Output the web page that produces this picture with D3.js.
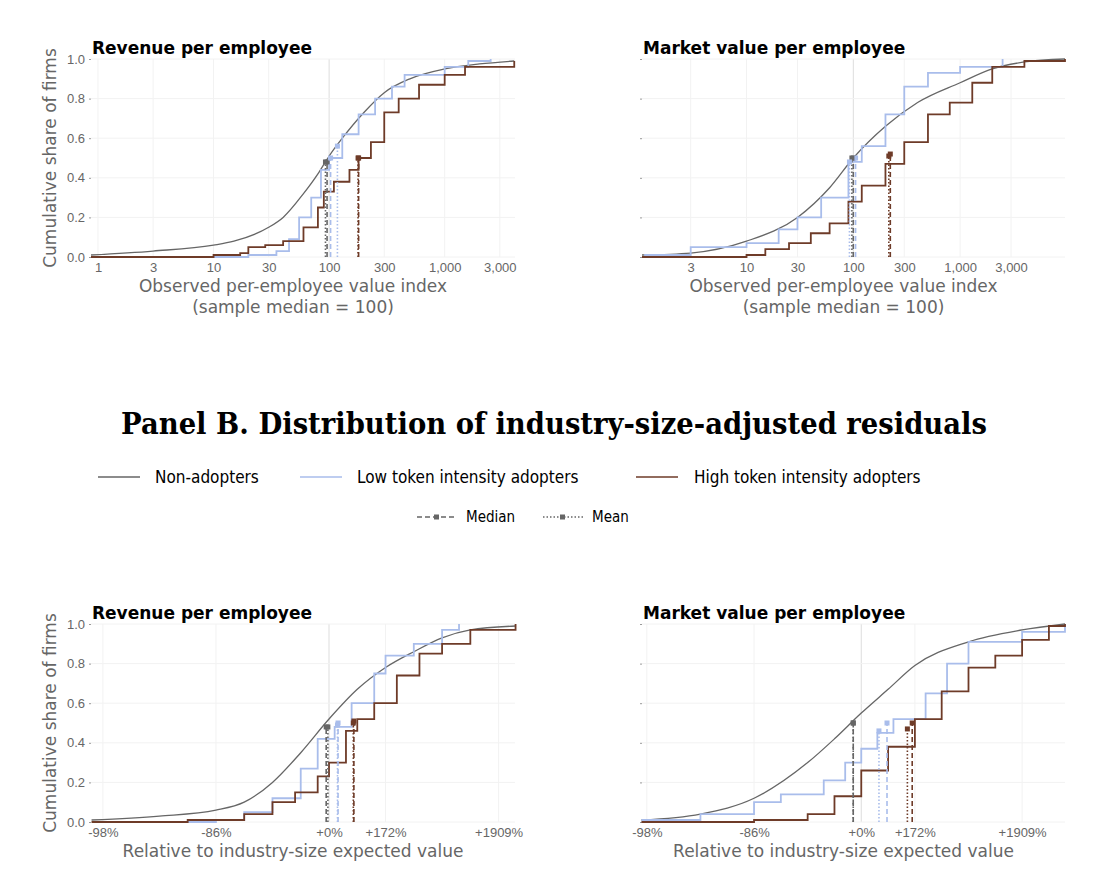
<!DOCTYPE html>
<html><head><meta charset="utf-8">
<script src="https://cdn.jsdelivr.net/npm/d3@7"></script>
<style>
body{margin:0;background:#fff;font-family:"DejaVu Sans",sans-serif}
.tick text{fill:#666;font-size:13px}
.title{font-weight:bold;font-size:17px;fill:#000}
.alab{fill:#666;font-size:17px}
</style></head><body>
<svg id="c" width="1100" height="896"></svg>
<script>
const series = ["Non-adopters", "Low token intensity adopters", "High token intensity adopters"]
const colors = ["#666666", "#a9bdeb", "#6e3b28"]

// Panel A: observed index (sample median = 100), CDF points [x, share]
const revNon = [[0.87,0.01],[3,0.03],[10,0.06],[15,0.08],[30,0.15],[40,0.2],[60,0.32],[80,0.42],[100,0.51],[130,0.6],[200,0.73],[300,0.83],[500,0.9],[1000,0.95],[2000,0.975],[4000,0.99]]
const revLow = [[10,0],[20,0.01],[35,0.03],[45,0.09],[55,0.2],[70,0.3],[85,0.44],[100,0.5],[130,0.62],[180,0.72],[250,0.8],[350,0.86],[450,0.92],[1000,0.96],[1600,0.99],[2500,1.0]]
const revHigh = [[0.87,0],[9,0],[10,0.01],[17,0.02],[20,0.05],[28,0.06],[40,0.08],[60,0.15],[80,0.25],[90,0.33],[110,0.38],[150,0.44],[180,0.5],[230,0.58],[300,0.73],[400,0.8],[600,0.87],[1000,0.92],[1500,0.96],[4000,0.99]]
const mvNon = [[1.05,0.01],[3,0.02],[10,0.08],[30,0.2],[60,0.35],[100,0.5],[200,0.66],[400,0.78],[1000,0.88],[2000,0.95],[4000,0.985],[9600,1.0]]
const mvLow = [[1.1,0.01],[3,0.05],[10,0.07],[15,0.07],[20,0.14],[30,0.2],[50,0.3],[90,0.48],[120,0.56],[200,0.72],[300,0.86],[500,0.93],[1000,0.96],[2500,1.0]]
const mvHigh = [[1.05,0],[10,0.01],[15,0.04],[25,0.07],[40,0.12],[60,0.17],[90,0.28],[120,0.36],[200,0.47],[300,0.58],[500,0.72],[800,0.78],[1300,0.88],[2000,0.96],[4000,0.99],[9600,1.0]]

// Panel B: log residual (ln ratio to expected), CDF points
const resRevNon = [[-4.2,0.01],[-3,0.03],[-2,0.06],[-1.5,0.1],[-1,0.2],[-0.5,0.35],[0,0.52],[0.5,0.67],[1,0.78],[1.5,0.86],[2,0.93],[2.5,0.97],[3.3,0.99]]
const resRevLow = [[-2.5,0],[-2,0.01],[-1.5,0.05],[-1,0.12],[-0.5,0.27],[-0.2,0.42],[0.1,0.48],[0.4,0.6],[0.8,0.75],[1.0,0.84],[1.5,0.9],[2,0.97],[2.3,1.0]]
const resRevHigh = [[-4.2,0],[-2.5,0.01],[-1.5,0.04],[-1,0.1],[-0.6,0.15],[-0.2,0.23],[0,0.3],[0.3,0.46],[0.5,0.52],[0.8,0.6],[1.2,0.74],[1.6,0.85],[2,0.9],[2.5,0.97],[3.3,1.0]]
const resMvNon = [[-4.1,0.01],[-3,0.04],[-2,0.12],[-1,0.3],[-0.5,0.42],[0,0.55],[0.5,0.67],[1,0.79],[2,0.91],[3,0.97],[3.8,1.0]]
const resMvLow = [[-4.1,0.01],[-3,0.04],[-2,0.1],[-1.5,0.14],[-0.7,0.21],[-0.3,0.3],[0,0.37],[0.3,0.45],[0.6,0.52],[1.2,0.65],[1.6,0.8],[2,0.91],[3,0.96],[3.8,1.0]]
const resMvHigh = [[-4.1,0],[-2,0.01],[-1,0.04],[-0.5,0.13],[0,0.26],[0.5,0.38],[1,0.52],[1.5,0.66],[2,0.78],[2.5,0.84],[3,0.92],[3.5,0.99],[3.8,1.0]]

// medians / means per series: [x, share]
const revMed = [[96,0.48],[103,0.5],[180,0.5]], revMean = [[93,0.48],[118,0.56],[178,0.5]]
const mvMed = [[100,0.5],[105,0.5],[222,0.52]], mvMean = [[97,0.5],[92,0.48],[215,0.51]]
const resRevMed = [[-0.05,0.48],[0.16,0.5],[0.44,0.51]], resRevMean = [[-0.02,0.48],[0.15,0.49],[0.43,0.5]]
const resMvMed = [[-0.15,0.5],[0.48,0.5],[0.95,0.5]], resMvMean = [[-0.15,0.5],[0.33,0.46],[0.86,0.47]]

const logTicks = [1,3,10,30,100,300,1000,3000]
const resTicks = [-4,-2,0,1,3]
const yTicks = [0,0.2,0.4,0.6,0.8,1.0]

const svg = d3.select("#c")

function panel(o) {
  const g = svg.append("g")
  const x = (o.log ? d3.scaleLog() : d3.scaleLinear()).domain(o.dom).range([o.x0, o.x1])
  const y = d3.scaleLinear().domain([0,1]).range([o.y1, o.y0])
  const ticks = o.ticks.filter(t => t >= o.dom[0] && t <= o.dom[1])
  // grid
  g.selectAll(".gx").data(ticks).join("line").attr("x1", d=>x(d)).attr("x2", d=>x(d))
    .attr("y1", o.y0).attr("y2", o.y1).attr("stroke", d => d === o.ref ? "#ddd" : "#f2f2f2")
  g.selectAll(".gy").data(yTicks).join("line").attr("x1", o.x0).attr("x2", o.x1)
    .attr("y1", d=>y(d)).attr("y2", d=>y(d)).attr("stroke", "#f2f2f2")
  const xa = g.append("g").attr("transform", `translate(0,${o.y1})`)
    .call(d3.axisBottom(x).tickValues(ticks).tickSize(0).tickPadding(6).tickFormat(o.fmt))
  xa.select(".domain").remove()
  const ya = g.append("g").attr("transform", `translate(${o.x0},0)`)
    .call(d3.axisLeft(y).tickValues(yTicks).tickSize(2).tickPadding(4).tickFormat(o.ylab ? d3.format(".1f") : ""))
  ya.select(".domain").remove()
  ya.selectAll(".tick line").attr("stroke", "#999")
  const line = d3.line().x(d=>x(d[0])).y(d=>y(d[1]))
  o.curves.forEach((c,i) => {
    g.append("path").datum(c).attr("fill","none").attr("stroke", colors[i])
      .attr("stroke-width", i === 0 ? 1.3 : 1.8)
      .attr("d", line.curve(i === 0 ? d3.curveMonotoneX : d3.curveStepAfter)(c))
  })
  const mark = (arr, dash) => arr.forEach((m,i) => {
    g.append("line").attr("x1", x(m[0])).attr("x2", x(m[0])).attr("y1", y(0)).attr("y2", y(m[1]))
      .attr("stroke", colors[i]).attr("stroke-width", 1.6).attr("stroke-dasharray", dash)
    g.append("rect").attr("x", x(m[0])-2.5).attr("y", y(m[1])-2.5).attr("width",5).attr("height",5).attr("fill", colors[i])
  })
  mark(o.med, "5,3"); mark(o.mean, "1.5,2")
  g.append("text").attr("class","title").attr("x", o.x0+1).attr("y", o.y0-5).text(o.title)
  o.xlab.forEach((t,k) => g.append("text").attr("class","alab").attr("text-anchor","middle")
    .attr("x", (o.x0+o.x1)/2 + (o.log ? -10 : -10)).attr("y", o.y1+35+k*21).text(t))
  if (o.ylab) g.append("text").attr("class","alab").attr("transform", `translate(${o.x0-35},${(o.y0+o.y1)/2}) rotate(-90)`)
    .attr("text-anchor","middle").attr("font-size", 18).text("Cumulative share of firms")
}

const fmtLog = d => d3.format(",")(d)
const fmtRes = d => { const p = Math.round((Math.exp(d)-1)*100); return (p >= 0 ? "+" : "") + p + "%" }
const xlabA = ["Observed per-employee value index", "(sample median = 100)"]
const xlabB = ["Relative to industry-size expected value"]

panel({x0:91,x1:515,y0:59,y1:257,log:true,dom:[0.87,4060],ticks:logTicks,ref:100,fmt:fmtLog,ylab:true,
  title:"Revenue per employee",xlab:xlabA,curves:[revNon,revLow,revHigh],med:revMed,mean:revMean})
panel({x0:642,x1:1065,y0:59,y1:257,log:true,dom:[1.05,9600],ticks:logTicks,ref:100,fmt:fmtLog,ylab:false,
  title:"Market value per employee",xlab:xlabA,curves:[mvNon,mvLow,mvHigh],med:mvMed,mean:mvMean})
panel({x0:91,x1:515,y0:624,y1:822,log:false,dom:[-4.21,3.29],ticks:resTicks,ref:0,fmt:fmtRes,ylab:true,
  title:"Revenue per employee",xlab:xlabB,curves:[resRevNon,resRevLow,resRevHigh],med:resRevMed,mean:resRevMean})
panel({x0:642,x1:1065,y0:624,y1:822,log:false,dom:[-4.09,3.8],ticks:resTicks,ref:0,fmt:fmtRes,ylab:false,
  title:"Market value per employee",xlab:xlabB,curves:[resMvNon,resMvLow,resMvHigh],med:resMvMed,mean:resMvMean})

svg.append("text").attr("x", 554).attr("y", 434).attr("text-anchor","middle")
  .attr("font-family","'DejaVu Serif', serif").attr("font-weight","bold").attr("font-size", 29)
  .attr("textLength", 866).attr("lengthAdjust","spacingAndGlyphs")
  .text("Panel B. Distribution of industry-size-adjusted residuals")

const leg = [[98,155],[300,357],[636,694]]
series.forEach((s,i) => {
  svg.append("line").attr("x1", leg[i][0]).attr("x2", leg[i][0]+42).attr("y1",477).attr("y2",477)
    .attr("stroke", colors[i]).attr("stroke-width", 1.5)
  svg.append("text").attr("x", leg[i][1]).attr("y", 483).attr("font-size", 17)
    .attr("font-family","'DejaVu Sans Condensed','DejaVu Sans',sans-serif").text(s)
})
;[[417,466,"5,3","Median"],[543,592,"1.5,2","Mean"]].forEach(m => {
  svg.append("line").attr("x1", m[0]).attr("x2", m[0]+40).attr("y1",517).attr("y2",517)
    .attr("stroke","#666").attr("stroke-width",1.4).attr("stroke-dasharray", m[2])
  svg.append("rect").attr("x", m[0]+17).attr("y",514.5).attr("width",5).attr("height",5).attr("fill","#666")
  svg.append("text").attr("x", m[1]).attr("y", 522).attr("font-size", 15)
    .attr("font-family","'DejaVu Sans Condensed','DejaVu Sans',sans-serif").text(m[3])
})
</script></body></html>
